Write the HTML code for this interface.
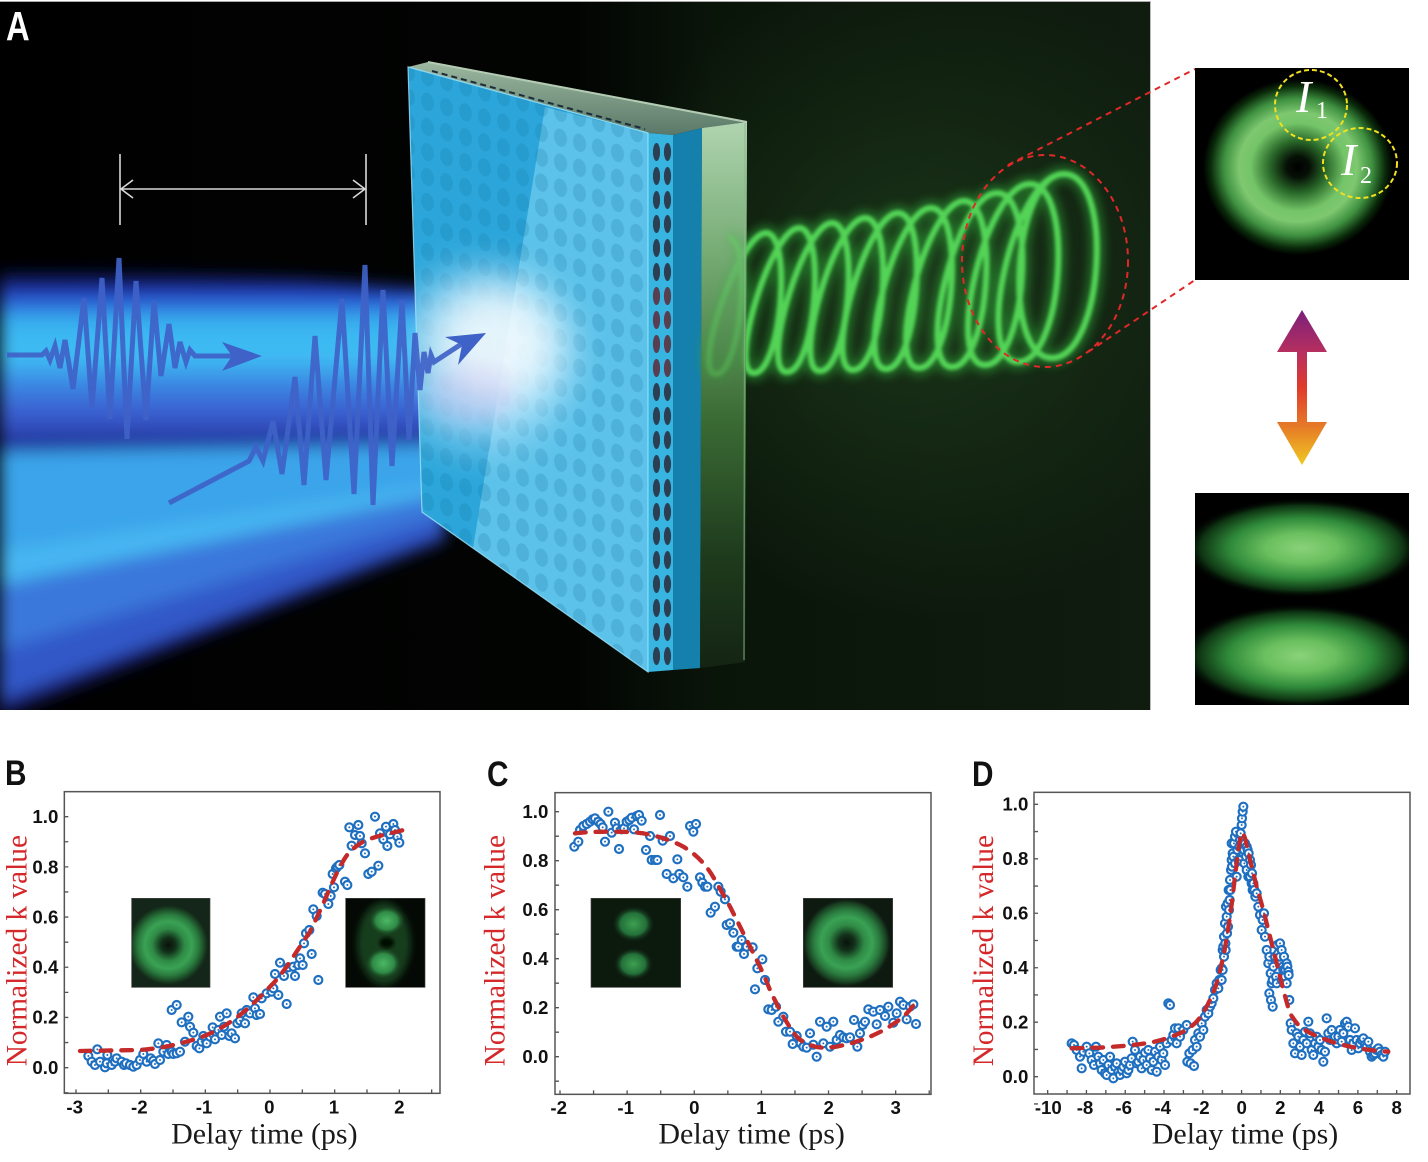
<!DOCTYPE html>
<html><head><meta charset="utf-8"><style>
html,body{margin:0;padding:0;background:#fff;}
svg{display:block;}
</style></head><body>
<svg xmlns="http://www.w3.org/2000/svg" width="1428" height="1162" viewBox="0 0 1428 1162">
<defs>
<linearGradient id="bgG" x1="0" y1="0" x2="1150" y2="0" gradientUnits="userSpaceOnUse">
<stop offset="0" stop-color="#000"/><stop offset="0.5" stop-color="#020402"/><stop offset="0.62" stop-color="#0a150a"/><stop offset="1" stop-color="#0f1c0f"/></linearGradient>
<radialGradient id="glowG" cx="920" cy="290" r="330" gradientUnits="userSpaceOnUse"><stop offset="0" stop-color="#1c381a" stop-opacity="0.9"/><stop offset="1" stop-color="#1c381a" stop-opacity="0"/></radialGradient>
<linearGradient id="beam1" x1="0" y1="268" x2="0" y2="445" gradientUnits="userSpaceOnUse">
<stop offset="0" stop-color="#0b1a6a" stop-opacity="0"/><stop offset="0.08" stop-color="#141f78"/><stop offset="0.17" stop-color="#2a50d0"/><stop offset="0.3" stop-color="#38b2f0"/><stop offset="0.5" stop-color="#40bef4"/><stop offset="0.66" stop-color="#3a86e2"/><stop offset="0.82" stop-color="#3a5ed0"/><stop offset="1" stop-color="#24389e"/></linearGradient>
<linearGradient id="slabG" x1="0" y1="122" x2="0" y2="668" gradientUnits="userSpaceOnUse">
<stop offset="0" stop-color="#b0d4b0"/><stop offset="0.25" stop-color="#74aa72"/><stop offset="0.55" stop-color="#3a6a34"/><stop offset="0.8" stop-color="#1e3a1c"/><stop offset="1" stop-color="#142414"/></linearGradient>
<linearGradient id="topG" x1="0" y1="62" x2="0" y2="135" gradientUnits="userSpaceOnUse">
<stop offset="0" stop-color="#9cb8a0"/><stop offset="1" stop-color="#5a7868"/></linearGradient>
<pattern id="dots" patternUnits="userSpaceOnUse" width="19" height="25" patternTransform="skewY(15)">
<ellipse cx="9.5" cy="12.5" rx="6.5" ry="9" fill="#0e6f9e" fill-opacity="0.2"/></pattern>
<pattern id="edots" patternUnits="userSpaceOnUse" x="651" y="140" width="11" height="24">
<ellipse cx="5.5" cy="12" rx="3.6" ry="9" fill="#2c3e52"/></pattern>
<pattern id="rdots" patternUnits="userSpaceOnUse" x="651" y="140" width="11" height="24">
<ellipse cx="5.5" cy="12" rx="3.6" ry="9" fill="#a84050"/></pattern>
<clipPath id="faceClip"><polygon points="408,67 648,133 648,672 422,512"/></clipPath>
<clipPath id="panelA"><rect x="0" y="2" width="1150" height="708"/></clipPath>
<clipPath id="ins1"><rect x="1195" y="68" width="214" height="212"/></clipPath>
<clipPath id="ins2"><rect x="1195" y="493" width="214" height="212"/></clipPath>
<clipPath id="cB1"><rect x="395" y="445" width="235" height="267"/></clipPath>
<clipPath id="cB2"><rect x="1037" y="445" width="238" height="267"/></clipPath>
<clipPath id="cC1"><rect x="363" y="445" width="269" height="267"/></clipPath>
<clipPath id="cC2"><rect x="1000" y="445" width="268" height="267"/></clipPath>
<filter id="b8" x="-30%" y="-30%" width="160%" height="160%"><feGaussianBlur stdDeviation="8"/></filter>
<filter id="b20" x="-60%" y="-60%" width="220%" height="220%"><feGaussianBlur stdDeviation="20"/></filter>
<filter id="b4" x="-20%" y="-20%" width="140%" height="140%"><feGaussianBlur stdDeviation="4.5"/></filter>
<filter id="b1" x="-10%" y="-10%" width="120%" height="120%"><feGaussianBlur stdDeviation="1.5"/></filter>
<filter id="b10" x="-40%" y="-40%" width="180%" height="180%"><feGaussianBlur stdDeviation="10"/></filter>
<radialGradient id="donutA" cx="0.5" cy="0.5" r="0.5">
<stop offset="0" stop-color="#000"/><stop offset="0.12" stop-color="#061006"/><stop offset="0.3" stop-color="#2a6a2a"/><stop offset="0.5" stop-color="#74c468"/><stop offset="0.62" stop-color="#7ec870"/><stop offset="0.78" stop-color="#3e9040"/><stop offset="0.92" stop-color="#0a2a0a"/><stop offset="1" stop-color="#000"/></radialGradient>
<radialGradient id="lobeA" cx="0.5" cy="0.5" r="0.5">
<stop offset="0" stop-color="#8ad27a"/><stop offset="0.3" stop-color="#6abf5e"/><stop offset="0.6" stop-color="#2f8a3a"/><stop offset="0.85" stop-color="#0e3312"/><stop offset="1" stop-color="#000" stop-opacity="0"/></radialGradient>
<linearGradient id="arrG" x1="0" y1="310" x2="0" y2="465" gradientUnits="userSpaceOnUse">
<stop offset="0" stop-color="#7a1f7a"/><stop offset="0.28" stop-color="#b8305e"/><stop offset="0.5" stop-color="#e03a2a"/><stop offset="0.75" stop-color="#e67a28"/><stop offset="1" stop-color="#f0c820"/></linearGradient>
<radialGradient id="donutS" cx="0.5" cy="0.5" r="0.5">
<stop offset="0" stop-color="#0a120a"/><stop offset="0.18" stop-color="#12301a"/><stop offset="0.4" stop-color="#2f8a45"/><stop offset="0.58" stop-color="#3aa254"/><stop offset="0.75" stop-color="#2a7a3e"/><stop offset="0.92" stop-color="#173a1f"/><stop offset="1" stop-color="#14261a" stop-opacity="0"/></radialGradient>
<radialGradient id="lobeS" cx="0.5" cy="0.5" r="0.5">
<stop offset="0" stop-color="#4cb865"/><stop offset="0.6" stop-color="#2f8a45"/><stop offset="1" stop-color="#163c1e" stop-opacity="0"/></radialGradient>
<radialGradient id="lobeS2" cx="0.5" cy="0.5" r="0.5">
<stop offset="0" stop-color="#3ca050"/><stop offset="0.6" stop-color="#24703a"/><stop offset="1" stop-color="#0c1a0e" stop-opacity="0"/></radialGradient>
<marker id="o" markerUnits="userSpaceOnUse" markerWidth="40" markerHeight="40" refX="20" refY="20" overflow="visible">
<circle cx="20" cy="20" r="12" fill="#fff" stroke="#1f6fc0" stroke-width="6.5"/><circle cx="20" cy="20" r="3" fill="#1f6fc0"/></marker>
</defs>

<rect width="1428" height="1162" fill="#fff"/>

<!-- ================= PANEL A ================= -->
<g clip-path="url(#panelA)">
<rect x="0" y="2" width="1150" height="708" fill="url(#bgG)"/>
<rect x="0" y="2" width="1150" height="708" fill="url(#glowG)"/>
<!-- beams -->
<g filter="url(#b8)">
<polygon points="0,268 300,278 445,292 445,440 300,442 0,445" fill="url(#beam1)"/>
<polygon points="0,437 0,452 445,445 445,438" fill="#22349e"/>
<polygon points="0,452 0,550 445,482 445,445" fill="#3aa4ea"/>
<polygon points="0,550 0,585 445,494 445,482" fill="#46b6f2"/>
<polygon points="0,585 0,650 445,516 445,494" fill="#3a78dc"/>
<polygon points="0,650 0,700 445,534 445,516" fill="#3058c8"/>
<polygon points="0,700 0,716 445,542 445,534" fill="#1a2478"/>
</g>
<!-- plate: green slab -->
<polygon points="702,128 747,122 745,662 700,668" fill="url(#slabG)"/>
<!-- top surface -->
<polygon points="408,67 428,62 747,122 702,128 673,135 648,133" fill="url(#topG)"/>
<line x1="428" y1="62" x2="747" y2="122" stroke="#b4ccb4" stroke-width="2"/>
<line x1="432" y1="71" x2="645" y2="129" stroke="#1b2c3a" stroke-width="2" stroke-dasharray="6 4"/>
<line x1="410" y1="69" x2="648" y2="134" stroke="#3ab0dc" stroke-width="3"/>
<!-- teal side -->
<polygon points="673,135 702,128 700,668 673,670" fill="#1680ac"/>
<!-- edge strip -->
<polygon points="648,133 673,135 673,670 648,672" fill="#38b4e0"/>
<rect x="651" y="140" width="22" height="528" fill="url(#edots)"/>
<rect x="651" y="284" width="22" height="96" fill="url(#rdots)" opacity="0.35"/>
<!-- front face -->
<polygon points="408,67 648,133 648,672 422,512" fill="#2ca6da"/>
<polygon points="545,107 648,133 648,672 473,548" fill="#7dd6f4" opacity="0.6"/>
<g clip-path="url(#faceClip)">
<rect x="400" y="40" width="260" height="640" fill="url(#dots)"/>
<ellipse cx="480" cy="360" rx="90" ry="90" fill="#bfe8ff" opacity="0.55" filter="url(#b20)"/>
</g>
<ellipse cx="495" cy="345" rx="65" ry="60" fill="#ffffff" opacity="0.8" filter="url(#b20)"/>
<ellipse cx="470" cy="395" rx="45" ry="30" fill="#d8b8f0" opacity="0.3" filter="url(#b10)"/>
<polygon points="408,67 648,133 648,672 422,512" fill="none" stroke="#9fe4fa" stroke-width="1.2" opacity="0.8"/>
<!-- helix -->
<g fill="none">
<path d="M728,238 C753,238 741,374 716,374 C691,374 739,233 766,233 C793,233 781,373 754,373 C727,373 771,228 799,228 C827,228 815,372 787,372 C759,372 803,223 832,223 C861,223 849,371 820,371 C791,371 834,218 865,218 C896,218 884,370 853,370 C822,370 866,213 898,213 C930,213 918,369 886,369 C854,369 896,208 931,208 C966,208 954,368 919,368 C884,368 927,201 964,201 C1001,201 989,367 952,367 C915,367 956,193 997,193 C1038,193 1026,365 985,365 C944,365 985,184 1030,184 C1075,184 1063,362 1018,362 C973,362 1013,174 1064,174 C1115,174 1103,358 1052,358 C1001,358 1013,174 1064,174" stroke="#2fa838" stroke-width="16" opacity="0.5" filter="url(#b4)"/>
<path d="M728,238 C753,238 741,374 716,374 C691,374 739,233 766,233 C793,233 781,373 754,373 C727,373 771,228 799,228 C827,228 815,372 787,372 C759,372 803,223 832,223 C861,223 849,371 820,371 C791,371 834,218 865,218 C896,218 884,370 853,370 C822,370 866,213 898,213 C930,213 918,369 886,369 C854,369 896,208 931,208 C966,208 954,368 919,368 C884,368 927,201 964,201 C1001,201 989,367 952,367 C915,367 956,193 997,193 C1038,193 1026,365 985,365 C944,365 985,184 1030,184 C1075,184 1063,362 1018,362 C973,362 1013,174 1064,174 C1115,174 1103,358 1052,358 C1001,358 1013,174 1064,174" stroke="#52d456" stroke-width="6" filter="url(#b1)"/>
</g>
<!-- slab over helix (translucent) -->
<polygon points="702,128 747,122 745,662 700,668" fill="url(#slabG)" opacity="0.6"/>
<line x1="745" y1="123" x2="744" y2="660" stroke="#8ab88a" stroke-width="1.5" opacity="0.6"/>
<!-- red dashed zoom circle -->
<ellipse cx="1045" cy="261" rx="83" ry="106" fill="none" stroke="#e02828" stroke-width="2" stroke-dasharray="6 5"/>
<!-- pulses -->
<g stroke="#3f62c8" stroke-width="5" fill="none" stroke-linejoin="miter" opacity="0.92">
<polyline points="7,355 42,355 46,351 50,360 55,346 60,368 65,340 73,389 84,298 92,408 102,278 110,419 119,258 127,439 136,281 146,420 154,301 161,376 169,324 175,368 180,342 186,362 190,350 195,356 232,356"/>
<polyline points="169,503 249,461 256,447 263,461 273,421 282,474 295,377 304,485 315,336 326,480 342,299 354,494 365,265 373,505 383,290 392,466 402,300 409,440 415,333 420,390 424,352 428,373 431,355 434,362 463,343"/>
</g>
<polygon points="262,356 222,342 232,356 222,371" fill="#3f62c8"/>
<polygon points="486,333 445,337 462,345 458,365" fill="#3f62c8"/>
<!-- white double arrow -->
<g stroke="#d8d8d8" stroke-width="1.6" fill="none">
<line x1="120" y1="154" x2="120" y2="225"/><line x1="366" y1="154" x2="366" y2="225"/>
<line x1="121" y1="189" x2="365" y2="189"/>
<polyline points="133,180 121,189 133,198"/><polyline points="353,180 365,189 353,198"/>
</g>
<text transform="translate(6,40) scale(0.8,1)" font-family="Liberation Sans, sans-serif" font-weight="bold" font-size="41" fill="#fff">A</text>
</g>
<line x1="0" y1="1.5" x2="1150" y2="1.5" stroke="#aaa" stroke-width="1"/>
<line x1="1150.5" y1="1" x2="1150.5" y2="710" stroke="#bbb" stroke-width="1"/>

<!-- dashed connectors -->
<g stroke="#e02828" stroke-width="2" stroke-dasharray="6 5">
<line x1="1008" y1="165" x2="1195" y2="69"/>
<line x1="1088" y1="352" x2="1195" y2="280"/>
</g>

<!-- top inset -->
<rect x="1195" y="68" width="214" height="212" fill="#000"/>
<g clip-path="url(#ins1)">
<ellipse cx="1298" cy="167" rx="95" ry="88" fill="url(#donutA)"/>
</g>
<g fill="none" stroke="#f0e020" stroke-width="2" stroke-dasharray="5 3">
<ellipse cx="1311" cy="105" rx="36" ry="35"/>
<ellipse cx="1360" cy="163" rx="37" ry="35"/>
</g>
<text x="1296" y="112" font-family="Liberation Serif, serif" font-style="italic" font-size="46" fill="#fff">I</text>
<text x="1316" y="118" font-family="Liberation Serif, serif" font-size="24" fill="#fff">1</text>
<text x="1341" y="175" font-family="Liberation Serif, serif" font-style="italic" font-size="46" fill="#fff">I</text>
<text x="1360" y="183" font-family="Liberation Serif, serif" font-size="24" fill="#fff">2</text>

<!-- double arrow -->
<polygon points="1302,310 1327,352 1307,352 1307,422 1327,422 1302,465 1277,422 1297,422 1297,352 1277,352" fill="url(#arrG)"/>

<!-- bottom inset -->
<rect x="1195" y="493" width="214" height="212" fill="#000"/>
<g clip-path="url(#ins2)">
<ellipse cx="1302" cy="548" rx="120" ry="50" fill="url(#lobeA)"/>
<ellipse cx="1300" cy="656" rx="120" ry="52" fill="url(#lobeA)"/>
</g>

<!-- ================= PANEL B ================= -->
<text transform="translate(5,785) scale(0.85,1)" font-family="Liberation Sans, sans-serif" font-weight="bold" font-size="35" fill="#111">B</text>
<g transform="translate(0,750) scale(0.333333)">
<rect x="395" y="445" width="235" height="267" fill="#14261a"/>
<g clip-path="url(#cB1)"><circle cx="505" cy="585" r="122" fill="url(#donutS)"/></g>
<rect x="395" y="445" width="235" height="267" fill="none" stroke="#444" stroke-width="2"/>
<rect x="1037" y="445" width="238" height="267" fill="#050905"/>
<g clip-path="url(#cB2)">
<ellipse cx="1152" cy="580" rx="80" ry="125" fill="#163c1e" filter="url(#b10)"/>
<ellipse cx="1160" cy="512" rx="55" ry="45" fill="url(#lobeS)"/>
<ellipse cx="1150" cy="640" rx="55" ry="48" fill="url(#lobeS)"/>
<ellipse cx="1160" cy="578" rx="22" ry="16" fill="#050905" filter="url(#b4)"/>
</g>
<rect x="1037" y="445" width="238" height="267" fill="none" stroke="#444" stroke-width="2"/>
<rect x="193" y="125" width="1127" height="905" fill="none" stroke="#555" stroke-width="4.5"/>
<g stroke="#555" stroke-width="4">
<path d="M193,1028.3h12M193,953h12M193,877.7h12M193,802.4h12M193,727.1h12M193,651.8h12M193,576.5h12M193,501.2h12M193,425.9h12M193,350.6h12M193,275.3h12M193,200h12"/>
<path d="M228,1030v-12M325,1030v-12M422,1030v-12M519,1030v-12M616,1030v-12M713,1030v-12M810,1030v-12M907,1030v-12M1004,1030v-12M1101,1030v-12M1198,1030v-12M1295,1030v-12"/>
</g>
<g font-family="Liberation Sans, sans-serif" font-weight="bold" font-size="56" fill="#111" text-anchor="end">
<text x="175" y="972">0.0</text><text x="175" y="821">0.2</text><text x="175" y="671">0.4</text><text x="175" y="520">0.6</text><text x="175" y="370">0.8</text><text x="175" y="219">1.0</text>
</g>
<g font-family="Liberation Sans, sans-serif" font-weight="bold" font-size="56" fill="#111" text-anchor="middle">
<text x="224" y="1090">-3</text><text x="418" y="1090">-2</text><text x="612" y="1090">-1</text><text x="808" y="1090">0</text><text x="1002" y="1090">1</text><text x="1198" y="1090">2</text>
</g>
<text x="793" y="1180" font-family="Liberation Serif, serif" font-size="90" fill="#1a1a1a" text-anchor="middle">Delay time (ps)</text>
<text transform="translate(80,602) rotate(-90)" font-family="Liberation Serif, serif" font-size="88" fill="#d4282a" text-anchor="middle">Normalized k value</text>
<path fill="none" stroke="none" marker-start="url(#o)" marker-mid="url(#o)" marker-end="url(#o)" d="M265,918 275,935 285,945 292,898 300,935 315,952 320,940 322,915 335,945 345,935 350,925 365,935 372,945 378,940 390,945 400,950 410,945 420,930 430,912 440,935 452,925 460,932 465,942 475,880 480,930 490,905 500,885 505,912 515,905 520,912 530,910 540,905 515,780 530,765 545,817 565,800 570,830 580,848 555,875 590,888 598,895 605,875 610,858 620,880 630,860 638,832 645,868 655,840 660,800 665,855 672,830 680,790 688,858 695,850 705,865 712,820 720,812 725,790 735,820 740,780 750,790 760,742 765,775 770,795 780,792 785,745 800,730 815,725 820,715 825,672 835,735 840,638 852,678 860,762 865,652 880,650 885,678 895,645 900,625 908,645 912,580 918,550 928,540 935,612 940,478 950,498 955,690 968,428 975,432 985,462 992,438 998,372 1002,412 1008,355 1012,350 1018,345 1035,395 1042,405 1048,232 1055,287 1065,255 1075,225 1080,258 1085,280 1095,310 1105,372 1115,365 1125,200 1135,347 1140,250 1150,268 1158,230 1162,288 1170,253 1180,222 1185,240 1192,260 1198,278"/>
<path fill="none" stroke="#c42a2a" stroke-width="13" stroke-dasharray="32 30" stroke-linecap="round" d="M240,903 L420,900 C480,895 510,888 540,880 C575,872 600,863 620,855 C650,842 675,827 700,810 C725,792 742,777 760,760 C785,737 802,718 820,700 C845,672 862,648 880,620 C900,590 915,567 930,545 C945,515 957,488 970,460 C985,425 997,397 1010,370 C1025,340 1037,318 1050,305 C1068,288 1082,278 1100,270 C1125,261 1137,258 1150,255 C1180,248 1200,242 1225,237"/>
</g>

<!-- ================= PANEL C ================= -->
<text transform="translate(487,786) scale(0.85,1)" font-family="Liberation Sans, sans-serif" font-weight="bold" font-size="35" fill="#111">C</text>
<g transform="translate(470,750) scale(0.333333)">
<rect x="363" y="445" width="269" height="267" fill="#0c1a0e"/>
<g clip-path="url(#cC1)">
<ellipse cx="490" cy="522" rx="65" ry="55" fill="url(#lobeS2)"/>
<ellipse cx="490" cy="642" rx="60" ry="50" fill="url(#lobeS2)"/>
</g>
<rect x="363" y="445" width="269" height="267" fill="none" stroke="#444" stroke-width="2"/>
<rect x="1000" y="445" width="268" height="267" fill="#0e1a10"/>
<g clip-path="url(#cC2)"><circle cx="1130" cy="578" r="132" fill="url(#donutS)"/></g>
<rect x="1000" y="445" width="268" height="267" fill="none" stroke="#444" stroke-width="2"/>
<rect x="255" y="128" width="1128" height="905" fill="none" stroke="#555" stroke-width="4.5"/>
<g stroke="#555" stroke-width="4">
<path d="M255,993.5h12M255,920h12M255,846.5h12M255,773h12M255,699.5h12M255,626h12M255,552.5h12M255,479h12M255,405.5h12M255,332h12M255,258.5h12M255,185h12"/>
<path d="M270,1033v-12M370.7,1033v-12M471.4,1033v-12M572.1,1033v-12M672.8,1033v-12M773.5,1033v-12M874.2,1033v-12M974.9,1033v-12M1075.6,1033v-12M1176.3,1033v-12M1277,1033v-12M1377.7,1033v-12"/>
</g>
<g font-family="Liberation Sans, sans-serif" font-weight="bold" font-size="56" fill="#111" text-anchor="end">
<text x="235" y="939">0.0</text><text x="235" y="792">0.2</text><text x="235" y="645">0.4</text><text x="235" y="498">0.6</text><text x="235" y="351">0.8</text><text x="235" y="204">1.0</text>
</g>
<g font-family="Liberation Sans, sans-serif" font-weight="bold" font-size="56" fill="#111" text-anchor="middle">
<text x="266" y="1092">-2</text><text x="467" y="1092">-1</text><text x="673" y="1092">0</text><text x="874" y="1092">1</text><text x="1076" y="1092">2</text><text x="1277" y="1092">3</text>
</g>
<text x="845" y="1180" font-family="Liberation Serif, serif" font-size="90" fill="#1a1a1a" text-anchor="middle">Delay time (ps)</text>
<text transform="translate(104,602) rotate(-90)" font-family="Liberation Serif, serif" font-size="88" fill="#d4282a" text-anchor="middle">Normalized k value</text>
<path fill="none" stroke="none" marker-start="url(#o)" marker-mid="url(#o)" marker-end="url(#o)" d="M313,290 325,275 330,240 340,228 350,222 360,215 368,208 375,205 385,215 392,222 398,232 405,275 415,185 425,248 435,218 440,235 447,297 455,238 462,235 470,215 478,210 485,203 492,238 500,198 507,195 515,212 528,300 540,258 545,330 555,330 562,330 570,195 578,272 590,372 600,258 610,385 622,328 628,372 640,382 652,410 660,228 670,245 678,222 690,382 697,398 705,410 712,410 722,488 735,470 745,410 752,425 765,448 770,525 780,520 790,548 800,590 805,590 815,570 822,612 830,590 848,592 855,718 862,655 877,628 885,690 895,778 905,780 918,770 925,815 940,800 948,845 960,845 968,882 980,858 992,880 1000,890 1010,893 1020,850 1030,884 1040,920 1050,815 1060,880 1070,830 1080,890 1090,815 1100,870 1110,855 1120,862 1130,865 1140,862 1152,810 1162,890 1170,850 1178,825 1185,815 1195,778 1210,785 1220,823 1230,780 1245,798 1255,770 1270,818 1280,790 1290,755 1300,765 1310,808 1320,770 1330,763 1338,822"/>
<path fill="none" stroke="#c42a2a" stroke-width="13" stroke-dasharray="32 30" stroke-linecap="round" d="M315,250 C350,246 380,245 420,245 C460,245 490,246 520,250 C550,256 565,260 580,265 C610,275 625,282 640,290 C665,305 685,322 700,340 C718,360 730,380 740,400 C755,425 768,447 780,470 C795,500 808,525 820,550 C835,580 848,605 860,630 C875,660 888,690 900,720 C913,748 927,775 940,800 C955,825 968,845 980,860 C993,873 1007,880 1020,885 C1035,890 1047,893 1060,893 C1075,893 1088,892 1100,890 C1118,886 1135,882 1150,878 C1168,872 1185,866 1200,860 C1218,852 1235,844 1250,835 C1268,824 1285,812 1300,800 C1313,788 1325,774 1335,760"/>
</g>

<!-- ================= PANEL D ================= -->
<text transform="translate(972,786) scale(0.85,1)" font-family="Liberation Sans, sans-serif" font-weight="bold" font-size="35" fill="#111">D</text>
<g transform="translate(950,750) scale(0.333333)">
<rect x="252" y="127" width="1128" height="905" fill="none" stroke="#555" stroke-width="4.5"/>
<g stroke="#555" stroke-width="4">
<path d="M252,1061.7h12M252,980h12M252,898.3h12M252,816.6h12M252,734.9h12M252,653.2h12M252,571.5h12M252,489.8h12M252,408.1h12M252,326.4h12M252,244.7h12M252,163h12"/>
<path d="M293,1032v-12M351.2,1032v-12M409.3,1032v-12M467.5,1032v-12M525.7,1032v-12M583.9,1032v-12M642,1032v-12M700.2,1032v-12M758.4,1032v-12M816.5,1032v-12M874.7,1032v-12M932.9,1032v-12M991,1032v-12M1049.2,1032v-12M1107.4,1032v-12M1165.6,1032v-12M1223.7,1032v-12M1281.9,1032v-12M1340,1032v-12"/>
</g>
<g font-family="Liberation Sans, sans-serif" font-weight="bold" font-size="56" fill="#111" text-anchor="end">
<text x="235" y="999">0.0</text><text x="235" y="836">0.2</text><text x="235" y="672">0.4</text><text x="235" y="509">0.6</text><text x="235" y="345">0.8</text><text x="235" y="182">1.0</text>
</g>
<g font-family="Liberation Sans, sans-serif" font-weight="bold" font-size="56" fill="#111" text-anchor="middle">
<text x="295" y="1092">-10</text><text x="405" y="1092">-8</text><text x="521" y="1092">-6</text><text x="638" y="1092">-4</text><text x="754" y="1092">-2</text><text x="875" y="1092">0</text><text x="991" y="1092">2</text><text x="1107" y="1092">4</text><text x="1224" y="1092">6</text><text x="1340" y="1092">8</text>
</g>
<text x="885" y="1180" font-family="Liberation Serif, serif" font-size="90" fill="#1a1a1a" text-anchor="middle">Delay time (ps)</text>
<text transform="translate(129,602) rotate(-90)" font-family="Liberation Serif, serif" font-size="88" fill="#d4282a" text-anchor="middle">Normalized k value</text>
<path fill="none" stroke="none" marker-start="url(#o)" marker-mid="url(#o)" marker-end="url(#o)" d="M365,880 372,885 380,900 390,920 395,955 400,905 410,890 418,910 425,930 432,945 438,890 445,920 450,940 455,960 460,930 465,970 470,975 475,945 480,920 485,960 490,985 495,950 500,940 505,965 510,975 515,960 520,950 525,935 530,970 535,960 540,945 545,925 548,875 555,900 560,940 565,935 570,920 575,955 580,930 585,908 590,945 595,900 600,925 605,960 610,935 615,905 620,965 625,920 630,890 635,930 640,910 645,945 650,880 655,760 660,765 665,870 670,855 675,835 680,880 685,835 690,860 700,840 710,825 712,935 718,910 722,940 728,900 732,948 735,870 740,890 745,850 750,860 755,820 760,840 765,800 770,780 775,790 780,770 785,760 790,745 795,720 800,700 805,715 808,690 812,660 815,655 815,690 818,600 818,660 820,590 822,560 822,620 825,520 826,580 827,600 828,470 830,500 831,550 833,460 834,530 836,420 837,480 839,450 840,390 841,420 843,360 845,330 845,280 846,350 848,310 850,320 852,280 855,260 855,340 858,245 860,380 862,300 865,330 868,290 870,270 870,330 872,250 875,225 876,205 878,185 880,170 880,310 882,300 883,340 885,280 888,320 890,290 890,360 893,300 895,380 896,310 900,330 900,380 903,345 905,400 906,370 908,420 910,400 913,420 916,440 920,430 925,470 930,495 935,540 938,510 942,490 945,560 950,600 955,640 958,620 958,730 962,670 963,750 965,700 968,690 968,770 970,650 975,620 978,680 980,700 982,585 985,610 990,580 990,620 995,600 995,690 998,650 1000,660 1002,620 1005,680 1006,660 1010,640 1010,700 1012,650 1015,665 1016,675 1018,750 1022,820 1025,840 1030,880 1035,910 1040,850 1045,860 1050,890 1055,915 1060,870 1065,845 1070,880 1075,815 1080,850 1085,900 1090,915 1095,880 1100,860 1105,890 1110,870 1115,900 1120,935 1125,905 1130,805 1135,850 1140,870 1145,840 1150,870 1155,860 1160,880 1165,860 1170,840 1175,875 1180,850 1185,820 1190,815 1195,830 1200,870 1205,900 1210,880 1215,835 1220,870 1225,895 1230,880 1235,870 1240,865 1245,885 1250,890 1255,875 1260,905 1265,920 1270,915 1275,910 1280,900 1285,895 1290,905 1295,915 1300,920 1305,905"/>
<path fill="none" stroke="#c42a2a" stroke-width="13" stroke-dasharray="32 30" stroke-linecap="round" d="M365,895 C400,894 425,893 450,893 C480,891 505,889 530,887 C560,884 580,881 600,878 C620,874 635,870 650,865 C670,858 685,852 700,845 C715,836 725,828 735,820 C750,805 760,788 770,770 C782,747 792,724 800,700 C808,672 814,646 820,620 C828,580 834,540 840,500 C846,460 850,420 855,380 C860,340 864,305 868,280 C871,262 873,252 876,248 C879,250 882,256 885,265 C891,285 896,308 900,330 C907,357 913,383 920,410 C927,433 933,456 940,480 C947,507 953,533 960,560 C967,587 973,613 980,640 C987,667 993,693 1000,720 C1007,745 1013,768 1020,790 C1030,806 1040,820 1050,830 C1067,842 1083,851 1100,858 C1117,865 1133,871 1150,877 C1167,882 1183,886 1200,890 C1220,894 1240,897 1260,900 C1278,902 1297,904 1315,905"/>
</g>
</svg>
</body></html>
